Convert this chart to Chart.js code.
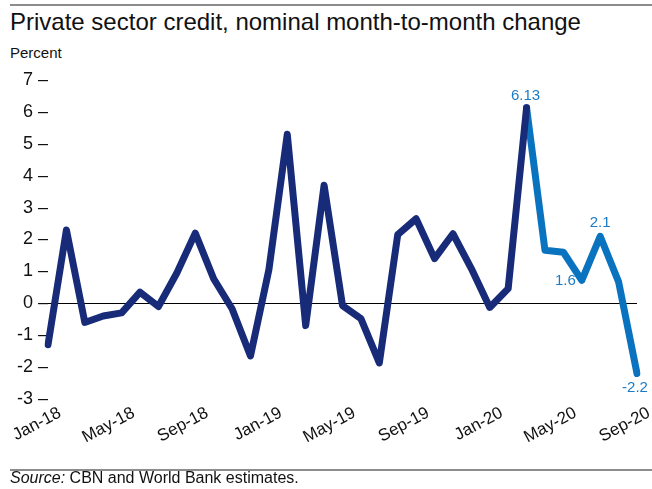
<!DOCTYPE html>
<html>
<head>
<meta charset="utf-8">
<script src="https://cdn.jsdelivr.net/npm/chart.js@4"></script>
<style>
  body { margin: 0; background: #fff; font-family: "Liberation Sans", Arial, sans-serif; }
  #wrap { position: relative; width: 652px; height: 489px; overflow: hidden; }
  #chart { position: absolute; left: 0; top: 0; }
  .rule { position: absolute; left: 10px; right: 0; height: 2px; background: #8c8c8c; }
  #title { position: absolute; left: 10px; top: 8px; font-size: 24px; color: #111; white-space: nowrap; }
  #unit { position: absolute; left: 10px; top: 44px; font-size: 15px; color: #111; }
  #source { position: absolute; left: 10px; top: 469px; font-size: 16px; color: #111; white-space: nowrap; }
</style>
</head>
<body>
<div id="wrap">
  <div class="rule" style="top:4px"></div>
  <div id="title">Private sector credit, nominal month-to-month change</div>
  <div id="unit">Percent</div>
  <canvas id="chart" width="652" height="489"></canvas>
  <div class="rule" style="top:469px"></div>
  <div id="source"><i>Source:</i> CBN and World Bank estimates.</div>
</div>
<script>
const months = [
  "Jan-18", "Feb-18", "Mar-18", "Apr-18", "May-18", "Jun-18", "Jul-18", "Aug-18", "Sep-18", "Oct-18", "Nov-18", "Dec-18",
  "Jan-19", "Feb-19", "Mar-19", "Apr-19", "May-19", "Jun-19", "Jul-19", "Aug-19", "Sep-19", "Oct-19", "Nov-19", "Dec-19",
  "Jan-20", "Feb-20", "Mar-20", "Apr-20", "May-20", "Jun-20", "Jul-20", "Aug-20", "Sep-20"
];
const creditChange = [
  -1.3, 2.3, -0.6, -0.4, -0.3, 0.35, -0.1, 0.95, 2.2, 0.77, -0.17, -1.65,
  1.05, 5.3, -0.7, 3.7, -0.07, -0.48, -1.87, 2.15, 2.65, 1.4, 2.18, 1.09,
  -0.13, 0.46, 6.13, 1.66, 1.6, 0.72, 2.1, 0.67, -2.2
];
const shownTicks = ["Jan-18", "May-18", "Sep-18", "Jan-19", "May-19", "Sep-19", "Jan-20", "May-20", "Sep-20"];
const labelledMonths = ["Mar-20", "May-20", "Jul-20", "Sep-20"];
const splitMonth = "Mar-20";

const splitIdx = months.indexOf(splitMonth);
const before = creditChange.map((v, i) => (i <= splitIdx ? v : null));
const after = creditChange.map((v, i) => (i >= splitIdx ? v : null));

// value labels drawn next to selected points
const labelPlacement = {
  "Mar-20": { dx: -1, dy: -12 },
  "May-20": { dx: 2, dy: 29 },
  "Jul-20": { dx: 0, dy: -13 },
  "Sep-20": { dx: -2, dy: 14 }
};

const pointLabels = {
  id: "pointLabels",
  afterDatasetsDraw(chart) {
    const { ctx } = chart;
    const y = chart.scales.y;
    const x = chart.scales.x;
    ctx.save();
    ctx.font = "15px 'Liberation Sans', Arial, sans-serif";
    ctx.fillStyle = "#1b7bc6";
    ctx.textAlign = "center";
    ctx.textBaseline = "middle";
    labelledMonths.forEach(m => {
      const i = months.indexOf(m);
      const p = labelPlacement[m];
      ctx.fillText(String(creditChange[i]), x.getPixelForValue(i) + p.dx, y.getPixelForValue(creditChange[i]) + p.dy);
    });
    ctx.restore();
  }
};

new Chart(document.getElementById("chart"), {
  type: "line",
  data: {
    labels: months,
    datasets: [
      { data: before, borderColor: "#172b78", borderWidth: 7, pointRadius: 0, tension: 0, borderJoinStyle: "round", borderCapStyle: "round" },
      { data: after, borderColor: "#0a73bf", borderWidth: 7, pointRadius: 0, tension: 0, borderJoinStyle: "round", borderCapStyle: "round" }
    ]
  },
  options: {
    responsive: false,
    animation: false,
    layout: { padding: { top: 80, right: 15, bottom: 0, left: 0 } },
    plugins: { legend: { display: false }, tooltip: { enabled: false } },
    scales: {
      x: {
        offset: false,
        afterFit: s => {
          s.height = 90;
          s.paddingLeft = 0;
          s.paddingRight = 0;
        },
        border: { display: false },
        grid: { display: false, drawTicks: false },
        ticks: {
          autoSkip: false,
          maxRotation: 28,
          minRotation: 28,
          labelOffset: 12,
          padding: 4,
          color: "#111",
          font: { size: 17, family: "'Liberation Sans', Arial, sans-serif" },
          callback: function (v, i) {
            const m = months[i];
            return shownTicks.includes(m) ? m : "";
          }
        }
      },
      y: {
        min: -3,
        max: 7,
        afterFit: s => { s.width = 48; },
        border: { display: false },
        grid: {
          drawTicks: false,
          color: c => (c.tick.value === 0 ? "#000" : "rgba(0,0,0,0)"),
          lineWidth: 1
        },
        ticks: {
          stepSize: 1,
          padding: 0,
          color: "#111",
          font: { size: 18, family: "'Liberation Sans', Arial, sans-serif" },
          callback: v => v + " \u2013"
        }
      }
    }
  },
  plugins: [pointLabels]
});
</script>
</body>
</html>
